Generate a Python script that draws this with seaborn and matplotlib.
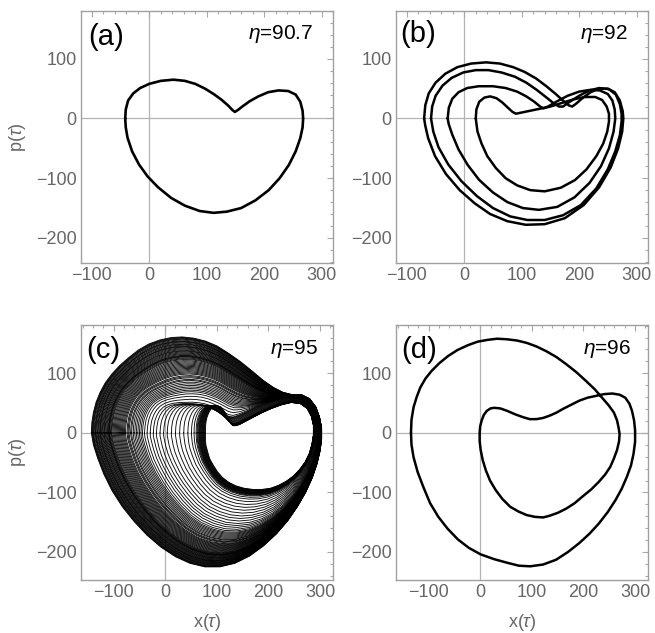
import numpy as np
import pandas as pd
import matplotlib
matplotlib.use("Agg")
import matplotlib.pyplot as plt
import seaborn as sns
from matplotlib.ticker import MultipleLocator

sns.set_style("white")
plt.rcParams["font.family"] = ["Liberation Sans", "DejaVu Sans"]
plt.rcParams["mathtext.fontset"] = "custom"
plt.rcParams["mathtext.rm"] = "Liberation Sans"
plt.rcParams["mathtext.it"] = "Liberation Sans:italic"

# ---------------------------------------------------------------- data
# phase-space orbits (x, p), listed clockwise from the leftmost point

# (a) eta = 90.7 : period-1 orbit
a_orbit = [(-42, 0), (-41, 15), (-37, 30), (-28, 42), (-16, 51), (0, 58), (20, 63),
           (42, 65), (62, 63), (80, 58), (97, 50), (112, 41), (125, 32), (137, 22),
           (145, 14), (149, 11), (154, 14), (162, 20), (175, 29), (190, 37), (207, 44),
           (225, 47), (242, 46), (255, 40), (263, 28), (267, 13), (268, 0), (267, -15),
           (263, -33), (255, -55), (243, -78), (227, -100), (208, -120), (185, -137),
           (160, -150), (135, -156), (112, -158), (88, -155), (62, -146), (38, -133),
           (15, -115), (-3, -97), (-18, -77), (-30, -55), (-38, -32), (-41, -15)]

# (b) eta = 92 : four windings of the period-4 orbit
b_orbit_1 = [(-70, 0), (-68, 22), (-62, 42), (-50, 60), (-33, 75), (-12, 86), (12, 92),
             (38, 94), (62, 92), (85, 86), (105, 78), (125, 67), (143, 54), (158, 42),
             (172, 30), (182, 22), (188, 20), (195, 25), (207, 35), (220, 44), (235, 50),
             (250, 50), (262, 44), (271, 30), (276, 12), (277, 0), (275, -22), (268, -50),
             (255, -82), (235, -115), (208, -145), (175, -167), (140, -177), (107, -178),
             (75, -172), (45, -160), (18, -142), (-8, -120), (-32, -93), (-51, -63),
             (-63, -33), (-68, -12)]
b_orbit_2 = [(-58, 0), (-56, 20), (-50, 38), (-38, 55), (-22, 68), (-2, 77), (20, 81),
             (42, 81), (65, 77), (88, 70), (108, 60), (126, 48), (142, 36), (155, 26),
             (165, 20), (172, 20), (182, 27), (200, 38), (218, 47), (235, 51), (252, 49),
             (264, 40), (271, 24), (274, 8), (274, -5), (271, -28), (263, -55), (250, -85),
             (230, -117), (203, -145), (172, -162), (140, -170), (110, -170), (80, -164),
             (50, -150), (22, -130), (-5, -105), (-28, -77), (-45, -48), (-54, -22)]
b_orbit_3 = [(-29, 0), (-27, 18), (-21, 33), (-10, 44), (5, 51), (25, 54), (50, 54),
             (72, 51), (92, 45), (108, 37), (122, 28), (132, 20), (138, 17), (146, 20),
             (160, 28), (180, 38), (200, 45), (220, 48), (236, 47), (250, 41), (258, 30),
             (262, 15), (263, 0), (260, -22), (252, -50), (238, -80), (218, -108),
             (192, -132), (162, -148), (130, -153), (102, -150), (75, -140), (50, -124),
             (26, -103), (6, -78), (-10, -52), (-21, -27), (-27, -10)]
b_orbit_4 = [(20, 0), (21, 15), (26, 28), (35, 35), (45, 37), (56, 34), (66, 27), (76, 18),
             (84, 11), (90, 8), (100, 10), (115, 13), (130, 16), (150, 20), (170, 26),
             (190, 32), (210, 36), (228, 36), (240, 31), (248, 20), (252, 8), (252, -5),
             (249, -22), (242, -42), (230, -63), (213, -85), (193, -103), (168, -116),
             (140, -122), (115, -120), (92, -112), (72, -100), (55, -83), (40, -63),
             (30, -42), (23, -22), (21, -8)]

# (c) eta = 95 : chaotic band; outermost, middle and innermost windings
c_outer = [(-143, 0), (-142, 17), (-139, 34), (-134, 51), (-126, 68), (-116, 84), (-103, 99),
           (-88, 113), (-71, 126), (-52, 139), (-32, 149), (-10, 156), (12, 160), (33, 161),
           (55, 159), (78, 154), (100, 146), (122, 134), (145, 120), (168, 104), (190, 88),
           (210, 76), (228, 68), (246, 64), (264, 64), (280, 57), (292, 43), (299, 26),
           (303, 8), (303, -10), (300, -30), (294, -52), (285, -75), (272, -100), (256, -124),
           (237, -148), (215, -170), (190, -190), (163, -207), (135, -219), (106, -225),
           (77, -225), (48, -219), (20, -208), (-8, -192), (-35, -172), (-60, -149),
           (-83, -124), (-103, -97), (-119, -69), (-131, -42), (-139, -20)]
c_middle = [(-20, 0), (-19, 10), (-17, 20), (-13, 29), (-8, 36), (-1, 42), (8, 46), (18, 48),
            (30, 49), (42, 49), (54, 49), (66, 48), (78, 46), (89, 43), (99, 39), (108, 35),
            (116, 31), (123, 28), (131, 27), (142, 30), (158, 36), (177, 44), (198, 51),
            (220, 57), (242, 60), (262, 58), (278, 48), (289, 32), (295, 13), (296, -5),
            (293, -25), (287, -45), (277, -66), (264, -86), (248, -105), (229, -122),
            (208, -136), (186, -146), (163, -152), (140, -154), (117, -152), (95, -146),
            (74, -137), (55, -124), (38, -108), (22, -90), (9, -72), (-2, -54), (-10, -38),
            (-15, -24), (-18, -13), (-20, -5)]
c_inner = [(78, 0), (78, 9), (79, 18), (81, 26), (84, 33), (88, 39), (93, 43), (98, 45),
           (103, 45), (108, 43), (112, 39), (116, 34), (119, 29), (122, 24), (125, 19),
           (128, 15), (132, 12), (137, 12), (144, 14), (155, 19), (170, 26), (188, 34),
           (206, 41), (225, 47), (244, 51), (262, 49), (275, 41), (283, 28), (287, 13),
           (287, -4), (284, -20), (279, -35), (271, -49), (261, -61), (249, -72), (235, -81),
           (220, -88), (204, -93), (187, -95), (170, -95), (153, -93), (137, -89), (123, -83),
           (111, -75), (101, -65), (93, -54), (86, -43), (82, -31), (79, -21), (78, -13),
           (78, -7), (78, -3)]
# x where each winding crosses p = 0 on its left side
c_left_crossings = [-143, -142, -141, -140, -139, -137.5, -136, -135, -134, -132.5, -131,
                    -130, -128.5, -127, -126, -125, -123.5, -122, -120.5, -119, -118, -116.5,
                    -115, -113.5, -112, -110.5, -109.5, -108.5, -107.5, -106, -104.5, -103,
                    -101, -99, -97, -95, -93, -91, -89, -87, -85, -83, -81, -79, -77, -74,
                    -72, -70, -67, -65, -62, -59, -56, -53, -50, -47, -44, -40, -35, -29,
                    -23, -17, -10, -3, 4, 12, 20, 28, 36, 44, 51, 56, 60, 62, 63.5, 65, 66,
                    67, 68, 69, 70, 71, 72, 73, 74, 75, 76, 77, 78]

# (d) eta = 96 : period-2 orbit (one closed curve with two windings)
d_orbit = [(-134, 0), (-133, 22), (-129, 43), (-123, 60), (-116, 76), (-106, 91), (-94, 104),
           (-79, 117), (-62, 129), (-44, 139), (-24, 147), (-5, 153), (14, 156), (33, 158),
           (52, 157), (71, 155), (90, 151), (109, 145), (128, 137), (148, 127), (167, 115),
           (186, 102), (205, 87), (222, 73), (236, 59), (249, 46), (259, 34), (265, 21),
           (268, 9), (270, -2), (269, -14), (265, -29), (259, -43), (252, -57), (242, -70),
           (230, -82), (215, -95), (198, -107), (183, -118), (167, -127), (151, -134),
           (135, -139), (122, -142), (106, -141), (90, -138), (74, -132), (58, -124),
           (43, -111), (30, -96), (19, -80), (11, -63), (5, -46), (1, -29), (-1, -14),
           (-1, 0), (0, 11), (3, 21), (7, 30), (13, 37), (20, 41), (27, 42), (39, 41),
           (52, 37), (68, 31), (84, 26), (96, 23), (109, 23), (122, 25), (135, 29), (148, 34),
           (160, 40), (176, 47), (192, 54), (208, 59), (224, 62), (240, 65), (256, 66),
           (270, 64), (281, 59), (289, 49), (294, 37), (298, 21), (300, 4), (300, -15),
           (297, -35), (292, -55), (284, -74), (274, -94), (262, -113), (247, -133),
           (230, -152), (212, -169), (192, -185), (170, -200), (147, -213), (122, -221),
           (97, -224), (75, -223), (52, -218), (27, -212), (1, -204), (-22, -193), (-43, -179),
           (-63, -161), (-81, -141), (-97, -118), (-110, -91), (-121, -66), (-129, -41),
           (-133, -20)]

panel_tags = ["(a)", "(b)", "(c)", "(d)"]
eta_values = ["90.7", "92", "95", "96"]
x_ticks = [-100, 0, 100, 200, 300]
p_ticks = [-200, -100, 0, 100]


# ---------------------------------------------------------------- helpers
def closed_frame(points, name=0):
    pts = list(points) + [points[0]]
    df = pd.DataFrame(pts, columns=["x", "p"])
    df["winding"] = name
    return df


def band_frame(outer, middle, inner, crossings):
    outer, middle, inner = (np.asarray(t, float) for t in (outer, middle, inner))
    frames = []
    for k, left in enumerate(crossings):
        if left <= middle[0, 0]:
            s = (left - middle[0, 0]) / (outer[0, 0] - middle[0, 0])
            pts = s * outer + (1 - s) * middle
        else:
            s = (left - inner[0, 0]) / (middle[0, 0] - inner[0, 0])
            pts = s * middle + (1 - s) * inner
        frames.append(closed_frame([tuple(v) for v in pts], k))
    return pd.concat(frames, ignore_index=True)


def style_axes(ax, xlim, ylim, show_xlabel, show_ylabel):
    ax.set_xlim(*xlim)
    ax.set_ylim(*ylim)
    ax.set_xticks(x_ticks)
    ax.set_yticks(p_ticks)
    ax.xaxis.set_minor_locator(MultipleLocator(20))
    ax.yaxis.set_minor_locator(MultipleLocator(20))
    ax.tick_params(which="both", direction="in", top=True, right=True,
                   color="#a8a8a8", width=0.8, labelcolor="#666666",
                   labelsize=13, pad=3)
    ax.tick_params(which="major", length=4)
    ax.tick_params(which="minor", length=2.2)
    for sp in ax.spines.values():
        sp.set_color("#a0a0a0")
        sp.set_linewidth(1.0)
    ax.axhline(0, color="#b4b4b4", lw=0.9, zorder=0.5)
    ax.axvline(0, color="#b4b4b4", lw=0.9, zorder=0.5)
    ax.set_xlabel("")
    ax.set_ylabel("")
    if show_xlabel:
        ax.set_xlabel(r"x($\tau$)", color="#666666", fontsize=13)
        ax.xaxis.set_label_coords(0.5, -0.125)
    if show_ylabel:
        ax.set_ylabel(r"p($\tau$)", color="#666666", fontsize=13)
        ax.yaxis.set_label_coords(-0.21, 0.5)


# ---------------------------------------------------------------- figure
fig = plt.figure(figsize=(6.55, 6.33), dpi=100)
W, H = 655, 633
boxes = {
    "a": [81 / W, 1 - 263 / H, 252 / W, 252 / H],
    "b": [396 / W, 1 - 263 / H, 252 / W, 252 / H],
    "c": [81 / W, 1 - 580 / H, 252 / W, 255 / H],
    "d": [396 / W, 1 - 580 / H, 252 / W, 255 / H],
}
axes = {k: fig.add_axes(v) for k, v in boxes.items()}

top_lim = dict(xlim=(-119, 320), ylim=(-242, 180))
bot_lim = dict(xlim=(-163, 325), ylim=(-247, 181))

line_kw = dict(x="x", y="p", units="winding", estimator=None, sort=False,
               color="black", legend=False)

sns.lineplot(data=closed_frame(a_orbit), ax=axes["a"], lw=1.9, **line_kw)

b_df = pd.concat([closed_frame(b_orbit_1, 1), closed_frame(b_orbit_2, 2),
                  closed_frame(b_orbit_3, 3), closed_frame(b_orbit_4, 4)],
                 ignore_index=True)
sns.lineplot(data=b_df, ax=axes["b"], lw=1.8, **line_kw)

c_df = band_frame(c_outer, c_middle, c_inner, c_left_crossings)
sns.lineplot(data=c_df, ax=axes["c"], lw=0.65, alpha=0.95, **line_kw)

sns.lineplot(data=closed_frame(d_orbit), ax=axes["d"], lw=1.8, **line_kw)

style_axes(axes["a"], top_lim["xlim"], top_lim["ylim"], False, True)
style_axes(axes["b"], top_lim["xlim"], top_lim["ylim"], False, False)
style_axes(axes["c"], bot_lim["xlim"], bot_lim["ylim"], True, True)
style_axes(axes["d"], bot_lim["xlim"], bot_lim["ylim"], True, False)

tag_pos = {"a": (0.028, 0.898), "b": (0.018, 0.91), "c": (0.02, 0.902), "d": (0.019, 0.902)}
eta_pos = {"a": (0.922, 0.91), "b": (0.919, 0.91), "c": (0.942, 0.905), "d": (0.933, 0.905)}
for key, tag, eta in zip("abcd", panel_tags, eta_values):
    ax = axes[key]
    ax.text(*tag_pos[key], tag, transform=ax.transAxes, ha="left", va="center",
            fontsize=21, color="black")
    ax.text(*eta_pos[key], r"$\eta$=" + eta, transform=ax.transAxes, ha="right",
            va="center", fontsize=15, color="black")

fig.savefig("out.png", dpi=100)
